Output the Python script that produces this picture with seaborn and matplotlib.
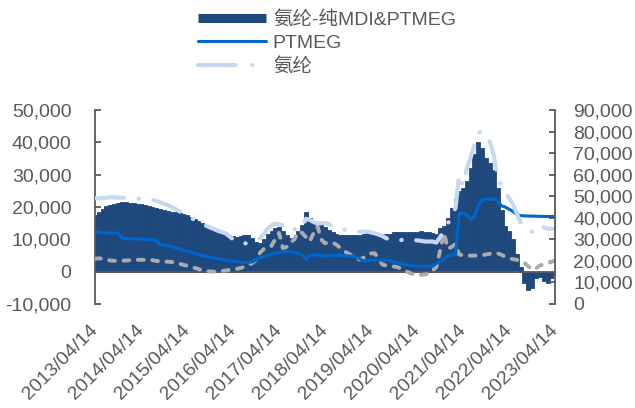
import numpy as np
import pandas as pd
import matplotlib
matplotlib.use("Agg")
import matplotlib.pyplot as plt
import matplotlib.dates as mdates
from matplotlib.lines import Line2D
from matplotlib.ticker import FuncFormatter, MultipleLocator
import seaborn as sns

# Monthly observations, 2013/04/14 .. 2023/04/14
dates = pd.date_range("2013-04-14", periods=121, freq=pd.DateOffset(months=1))

# Spread: spandex minus pure MDI & PTMEG cost (yuan/t, left axis)
spread = [
    17500, 18500, 19500, 20300, 20700, 21000, 21300, 21700, 21500, 21300,
    21200, 21000, 21000, 20700, 20400, 20000, 19700, 19500, 19200, 18900,
    18600, 18400, 18100, 17800, 17400, 17000, 16400, 15700, 15200, 14400,
    13800, 13300, 12900, 12500, 11800, 11300, 10900, 10800, 10900, 11200,
    11400, 10500, 9300, 9000, 10000, 11500, 12500, 13500, 13800, 12500,
    11400, 10500, 10200, 12500, 14500, 18600, 16500, 15800, 15300, 14600,
    13800, 12800, 12200, 11800, 11400, 11400, 11400, 11300, 11400, 11400,
    11500, 11900, 11800, 11700, 11600, 11800, 11700, 11800, 12300, 12200,
    12400, 12200, 12300, 12400, 12200, 12600, 12300, 12400, 12000, 11500,
    13500, 14000, 16500, 19800, 22500, 25000, 26000, 28000, 32000, 36500,
    40000, 38200, 35000, 33500, 31500, 26000, 19000, 14000, 12500, 10000,
    5500, 1500, -3500, -5600, -5000, -2000, -1500, -2800, -3400, -2000,
    -700,
]

# PTMEG price (yuan/t, right axis)
ptmeg = [
    33600, 33300, 33000, 33000, 32900, 32900, 32800, 30500, 30300, 30300,
    30200, 30200, 30100, 30000, 29900, 29800, 29600, 27500, 27300, 27000,
    26600, 26100, 25600, 25100, 24600, 24000, 23500, 23000, 22500, 22100,
    21700, 21300, 21000, 20600, 20300, 20000, 19800, 19600, 19400, 19300,
    19300, 19500, 20500, 21500, 22000, 22500, 23000, 23600, 23900, 24200,
    24400, 24400, 24000, 23300, 22800, 20500, 22500, 22800, 22800, 22500,
    22200, 22300, 22500, 22500, 22600, 22400, 22300, 22200, 22000, 21000,
    19900, 20000, 20300, 20300, 20400, 20300, 20300, 20200, 19500, 19000,
    18600, 18200, 17900, 17700, 17600, 17500, 17500, 17400, 17600, 18800,
    19800, 20800, 22300, 22800, 23000, 42000, 42000, 41500, 39200, 40500,
    45500, 48500, 48700, 48700, 48700, 48000, 45500, 45000, 44000, 43000,
    41500, 41000, 40900, 40800, 40800, 40700, 40700, 40600, 40600, 40600,
    40600,
]

# Spandex price (yuan/t, right axis)
spandex = [
    49000, 49000, 49200, 49300, 49500, 49500, 49400, 49300, 49300, 49500,
    49300, 49000, 48800, 48800, 48800, 48500, 47800, 47200, 46500, 45800,
    45000, 44000, 43000, 42000, 41000, 40000, 39000, 38000, 37300, 36300,
    35500, 34800, 34000, 33400, 32800, 31500, 30000, 29000, 28500, 28000,
    28500, 29000, 29500, 30500, 32500, 35000, 36500, 37200, 37000, 36500,
    35000, 34000, 34500, 36000, 35500, 39500, 39000, 38000, 37300, 37500,
    37500, 37000, 36000, 35000, 34800, 34500, 34500, 34000, 33800, 33500,
    33600, 33600, 33200, 32800, 32200, 31500, 30500, 29800, 29500, 29500,
    29700, 29800, 29800, 29800, 29500, 29300, 29000, 29000, 29000, 28500,
    31000, 34000, 37500, 40000, 44800, 60000, 55000, 63000, 68000, 74000,
    79500, 80000, 78000, 75000, 69000, 58000, 55000, 52000, 49000, 46400,
    42000, 38000, 35600, 34500, 33500, 32500, 34000, 35600, 35000, 34800,
    34900,
]

# Pure MDI price (yuan/t, right axis)
mdi = [
    21000, 21200, 21000, 20500, 20200, 20000, 20100, 20100, 20200, 20300,
    20400, 20500, 20500, 20500, 20500, 20300, 20000, 19800, 19600, 19600,
    19500, 19200, 18700, 18200, 17800, 17400, 16800, 16200, 15700, 15300,
    15100, 15000, 15100, 15300, 15500, 15800, 16100, 16300, 16700, 17300,
    18200, 19000, 20500, 23800, 25500, 26700, 27000, 30000, 33000, 26000,
    26500, 28500, 30000, 33500, 33000, 31000, 29000, 33000, 36000, 30000,
    28200, 28500, 28500, 27500, 26000, 24500, 23500, 22500, 21500, 20600,
    21500, 22500, 23500, 23500, 21000, 18300, 17800, 17500, 17400, 17000,
    16200, 15300, 14500, 13800, 13600, 13500, 13700, 14000, 15500, 17100,
    24800, 33000, 25600, 26500, 27900, 23000, 22500, 22500, 22400, 22500,
    22500, 22600, 23000, 23300, 23500, 23500, 22800, 22000, 21200, 20800,
    20500, 20200, 19000, 17500, 16000, 16500, 17900, 18300, 18700, 19500,
    20300,
]

legend_labels = ["氨纶-纯MDI&PTMEG", "PTMEG", "氨纶"]

df = pd.DataFrame({"date": dates, "spread": spread, "ptmeg": ptmeg,
                   "spandex": spandex, "mdi": mdi})

NAVY = "#1F497D"
BLUE = "#0066CC"
LIGHT = "#C6D9F1"
GRAY = "#ABABAB"
TXT = "#595959"

sns.set_style("white")
plt.rcParams["font.family"] = ["Liberation Sans", "Noto Sans CJK SC"]
plt.rcParams["font.size"] = 14

fig = plt.figure(figsize=(6.35, 4.08), dpi=100)
ax = fig.add_axes([95 / 635, 1 - 304 / 408, 460 / 635, 194 / 408])
ax2 = ax.twinx()

# spread as dense bars on the left axis
ax.bar(df["date"], df["spread"], width=32, color=NAVY, edgecolor=NAVY,
       linewidth=0.6, zorder=2)

# prices on the right axis
sns.lineplot(data=df, x="date", y="mdi", ax=ax2, color=GRAY, linewidth=2.8,
             linestyle=(0, (1.5, 2.2)), dash_capstyle="round", legend=False)
sns.lineplot(data=df, x="date", y="ptmeg", ax=ax2, color=BLUE, linewidth=2.2,
             legend=False)
sns.lineplot(data=df, x="date", y="spandex", ax=ax2, color=LIGHT, linewidth=3.0,
             linestyle=(0, (7, 3.5, 0.1, 3.5)), dash_capstyle="round",
             legend=False)

x0, x1 = pd.Timestamp("2013-04-14"), pd.Timestamp("2023-04-14")
ax.set_xlim(x0, x1)
ax.set_ylim(-10000, 50000)
ax2.set_ylim(0, 90000)
ax.yaxis.set_major_locator(MultipleLocator(10000))
ax2.yaxis.set_major_locator(MultipleLocator(10000))
fmt = FuncFormatter(lambda v, p: f"{v:,.0f}")
ax.yaxis.set_major_formatter(fmt)
ax2.yaxis.set_major_formatter(fmt)

years = pd.date_range("2013-04-14", periods=11, freq=pd.DateOffset(years=1))
ax.set_xticks(years)
ax.xaxis.set_major_formatter(mdates.DateFormatter("%Y/%m/%d"))

for s in ["top", "right"]:
    ax.spines[s].set_visible(False)
for s in ["top", "left", "bottom"]:
    ax2.spines[s].set_visible(False)
ax.spines["bottom"].set_position(("data", 0))
for s in [ax.spines["left"], ax.spines["bottom"], ax2.spines["right"]]:
    s.set_color(TXT)
    s.set_linewidth(1.3)
ax.spines["bottom"].set_zorder(3)

ax.tick_params(axis="y", direction="in", length=4, width=1.3, color=TXT,
               labelcolor=TXT, labelsize=14, pad=17)
ax2.tick_params(axis="y", direction="in", length=4, width=1.3, color=TXT,
                labelcolor=TXT, labelsize=14, pad=13)
ax.tick_params(axis="x", direction="in", length=4, width=1.3, color=TXT,
               labelcolor=TXT, labelsize=14, pad=40)
for lab in ax.get_xticklabels():
    lab.set_rotation(45)
    lab.set_ha("right")
    lab.set_va("center")
    lab.set_rotation_mode("anchor")

ax.set_xlabel("")
ax.set_ylabel("")
ax2.set_xlabel("")
ax2.set_ylabel("")
ax.grid(False)
ax2.grid(False)

handles = [
    Line2D([], [], color=NAVY, linewidth=6.5, solid_capstyle="butt"),
    Line2D([], [], color=BLUE, linewidth=2.2, solid_capstyle="round"),
    Line2D([], [], color=LIGHT, linewidth=3.0,
           linestyle=(0, (9, 4, 0.1, 4)), dash_capstyle="round"),
]
fig.legend(handles, legend_labels, loc="upper left",
           bbox_to_anchor=(198 / 635, 1 - 11 / 408), frameon=False,
           fontsize=14, handlelength=3.5, handletextpad=0.35,
           labelspacing=0.3, borderpad=0, borderaxespad=0,
           labelcolor=TXT)

fig.savefig("out.png", dpi=100)
